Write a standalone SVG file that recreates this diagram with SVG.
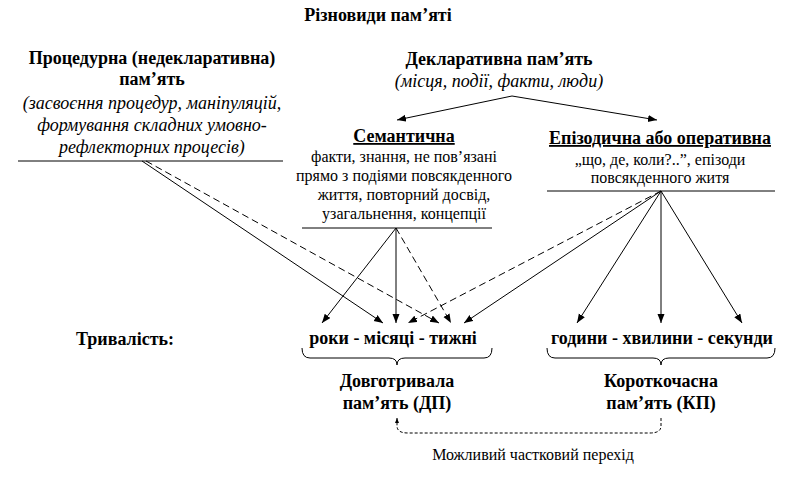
<svg xmlns="http://www.w3.org/2000/svg" width="793" height="489" viewBox="0 0 793 489">
<style>
text{font-family:"Liberation Serif","Times New Roman",serif;fill:#000;text-anchor:middle}
.b{font-weight:bold;font-size:18px}
.i{font-style:italic;font-size:18px}
.r{font-size:16px}
.u{text-decoration:underline}
.ln{stroke:#000;stroke-width:1;fill:none}
.d{stroke-dasharray:7,4}
.fd{stroke-dasharray:3,2}
</style>
<defs>
<marker id="ah" markerUnits="userSpaceOnUse" markerWidth="10" markerHeight="8" refX="9" refY="3.5" orient="auto">
<path d="M0,0 L9,3.5 L0,7 z" fill="#000"/>
</marker>
<marker id="ahs" markerUnits="userSpaceOnUse" markerWidth="6" markerHeight="6" refX="5" refY="2" orient="auto">
<path d="M0,0 L5,2 L0,4 z" fill="#000"/>
</marker>
</defs>
<rect width="793" height="489" fill="#fff"/>
<g id="title"><text class="b" x="378" y="21">Різновиди пам’яті</text></g>
<g id="procedural">
<text class="b" x="152" y="64">Процедурна (недекларативна)</text>
<text class="b" x="152" y="84.5">пам’ять</text>
<text class="i" x="152" y="108.5">(засвоєння процедур, маніпуляцій,</text>
<text class="i" x="152" y="131">формування складних умовно-</text>
<text class="i" x="152" y="153">рефлекторних процесів)</text>
<line class="ln" x1="18" y1="161" x2="283" y2="161"/>
</g>
<g id="declarative">
<text class="b" x="499" y="65">Декларативна пам’ять</text>
<text class="i" x="499" y="87">(місця, події, факти, люди)</text>
</g>
<g id="semantic">
<text class="b u" x="404" y="142">Семантична</text>
<text class="r" x="404" y="162">факти, знання, не пов’язані</text>
<text class="r" x="404" y="181">прямо з подіями повсякденного</text>
<text class="r" x="404" y="200">життя, повторний досвід,</text>
<text class="r" x="404" y="219">узагальнення, концепції</text>
<line class="ln" x1="302" y1="228" x2="492" y2="228"/>
</g>
<g id="episodic">
<text class="b u" x="660" y="144">Епізодична або оперативна</text>
<text class="r" x="660" y="165">„що, де, коли?..”, епізоди</text>
<text class="r" x="660" y="183">повсякденного житя</text>
<line class="ln" x1="547" y1="191" x2="775" y2="191"/>
</g>
<g id="duration"><text class="b" x="125" y="345">Тривалість:</text></g>
<g id="long-range">
<text class="b" x="393" y="344">роки - місяці - тижні</text>
<path class="ln" d="M302,348 Q302,358 310,358 L389,358 Q397,358 397,365 Q397,358 405,358 L484,358 Q492,358 492,348"/>
</g>
<g id="short-range">
<text class="b" x="662" y="344">години - хвилини - секунди</text>
<path class="ln" d="M547,348 Q547,358 555,358 L653,358 Q661,358 661,365 Q661,358 669,358 L767,358 Q775,358 775,348"/>
</g>
<g id="ltm">
<text class="b" x="397" y="387">Довготривала</text>
<text class="b" x="397" y="409">пам’ять (ДП)</text>
</g>
<g id="stm">
<text class="b" x="661" y="387">Короткочасна</text>
<text class="b" x="661" y="409">пам’ять (КП)</text>
</g>
<g id="transition-label"><text class="r" x="533" y="460">Можливий частковий перехід</text></g>
<g id="connectors">
<line class="ln" x1="512" y1="96" x2="397" y2="120" marker-end="url(#ah)"/>
<line class="ln" x1="512" y1="96" x2="657" y2="120" marker-end="url(#ah)"/>
<line class="ln" x1="142" y1="161" x2="383" y2="323" marker-end="url(#ah)"/>
<line class="ln d" x1="146" y1="161" x2="439" y2="323" marker-end="url(#ah)"/>
<line class="ln" x1="396" y1="228" x2="322" y2="323" marker-end="url(#ah)"/>
<line class="ln" x1="396" y1="228" x2="396" y2="323" marker-end="url(#ah)"/>
<line class="ln d" x1="396" y1="228" x2="451" y2="323" marker-end="url(#ah)"/>
<line class="ln d" x1="661" y1="191" x2="408" y2="323" marker-end="url(#ah)"/>
<line class="ln" x1="661" y1="191" x2="464" y2="323" marker-end="url(#ah)"/>
<line class="ln" x1="661" y1="191" x2="577" y2="323" marker-end="url(#ah)"/>
<line class="ln" x1="661" y1="191" x2="661" y2="323" marker-end="url(#ah)"/>
<line class="ln" x1="661" y1="191" x2="742" y2="323" marker-end="url(#ah)"/>
<path class="ln fd" d="M661,418 L661,426 Q661,433 650,433 L408,433 Q397,433 397,426 L397,418" marker-end="url(#ahs)"/>
</g>
</svg>
